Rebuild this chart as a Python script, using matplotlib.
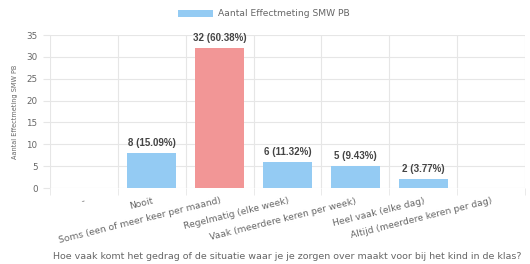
import matplotlib
matplotlib.use("Agg")
import matplotlib.pyplot as plt
import numpy as np

categories = ["-", "Nooit", "Soms (een of meer keer per maand)", "Regelmatig (elke week)",
              "Vaak (meerdere keren per week)", "Heel vaak (elke dag)", "Altijd (meerdere keren per dag)"]
values = [0, 8, 32, 6, 5, 2, 0]
highlight = [False, False, True, False, False, False, False]
series_name = "Aantal Effectmeting SMW PB"
x_title = "Hoe vaak komt het gedrag of de situatie waar je je zorgen over maakt voor bij het kind in de klas?"
y_ticks = [0, 5, 10, 15, 20, 25, 30, 35]

plt.rcParams['font.family'] = ['DejaVu Sans']
NARROW = ['Liberation Sans', 'DejaVu Sans']
BLUE = "#94cbf3"
RED = "#f29696"
GRID = "#e6e6e6"
TXT = "#666666"

fig = plt.figure(figsize=(5.30, 2.64), dpi=100)
ax = fig.add_axes([50/530, 1-188/264, 475/530, 153/264])

total = sum(values)
x = np.arange(len(categories))
colors = [RED if h else BLUE for h in highlight]
bars = ax.bar(x, values, width=0.72, color=colors, zorder=3, label=series_name)

for xi, v in zip(x, values):
    if v > 0:
        ax.annotate(f"{v} ({v/total*100:.2f}%)", (xi, v), xytext=(0, 3.5), textcoords="offset points",
                    ha="center", va="bottom", fontsize=7, color="#444444", fontweight="bold",
                    family=NARROW)

ax.set_xlim(-0.5, len(categories) - 0.5)
ax.set_ylim(0, 35)
ax.set_yticks(y_ticks)
ax.set_yticklabels([str(t) for t in y_ticks], fontsize=6.3, color=TXT)
ax.tick_params(axis='y', length=5, color=GRID, pad=4)

ax.set_xticks(x)
ax.set_xticklabels(categories, rotation=14, ha="right", rotation_mode="anchor", fontsize=6.6, color=TXT)
ax.tick_params(axis='x', which='major', length=0, pad=6)
ax.set_xticks(np.arange(-0.5, len(categories)), minor=True)
ax.tick_params(axis='x', which='minor', length=5, color=GRID)

ax.grid(axis='y', which='major', color=GRID, linewidth=0.8, zorder=0)
ax.grid(axis='x', which='minor', color=GRID, linewidth=0.8, zorder=0)
for s in ax.spines.values():
    s.set_visible(False)

ax.set_ylabel(series_name, fontsize=4.7, color=TXT, labelpad=6)
ax.set_xlabel(x_title, fontsize=6.8, color=TXT, labelpad=5)

leg = fig.legend(handles=[bars], labels=[series_name], loc="center", bbox_to_anchor=(264/530, 1-14/264),
                 frameon=False, fontsize=6.6, handlelength=3.8, handleheight=0.9, handletextpad=0.6)
for t in leg.get_texts():
    t.set_color(TXT)

fig.savefig("out.png", dpi=100)
